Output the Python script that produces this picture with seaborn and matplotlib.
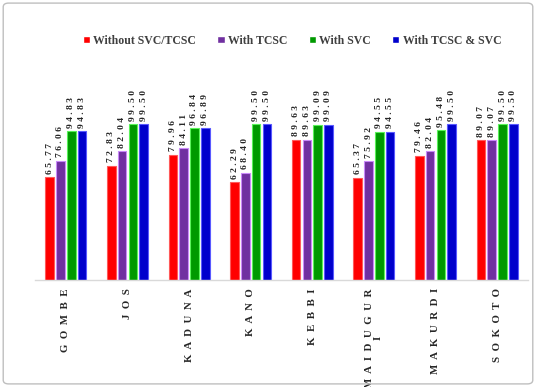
import matplotlib
matplotlib.use("Agg")
import matplotlib.pyplot as plt
import seaborn as sns
import pandas as pd
from matplotlib.patches import FancyBboxPatch
from matplotlib.colors import to_rgb

# Bus voltage profile (%) per location and compensation scheme
locations = ["GOMBE", "JOS", "KADUNA", "KANO", "KEBBI", "MAIDUGURI", "MAKURDI", "SOKOTO"]
tick_labels = ["GOMBE", "JOS", "KADUNA", "KANO", "KEBBI", "MAIDUGUR\nI", "MAKURDI", "SOKOTO"]
schemes = ["Without SVC/TCSC", "With TCSC", "With SVC", "With TCSC & SVC"]
legend_labels = ["Without SVC/TCSC", "With TCSC", "With SVC", "With TCSC & SVC"]

without_comp = [65.77, 72.83, 79.96, 62.29, 89.63, 65.37, 79.46, 89.07]
with_tcsc = [76.06, 82.04, 84.11, 68.40, 89.63, 75.92, 82.04, 89.07]
with_svc = [94.83, 99.50, 96.84, 99.50, 99.09, 94.55, 95.48, 99.50]
with_both = [94.83, 99.50, 96.89, 99.50, 99.09, 94.55, 99.50, 99.50]

colors = ["#ff0000", "#7030a0", "#009900", "#0000cc"]

df = pd.DataFrame({
    "location": locations * 4,
    "scheme": sum([[s] * len(locations) for s in schemes], []),
    "value": without_comp + with_tcsc + with_svc + with_both,
})

sns.set_theme(style="white")
plt.rcParams["font.family"] = ["Liberation Serif", "DejaVu Serif"]

fig = plt.figure(figsize=(5.36, 3.87), dpi=100)
ax = fig.add_axes([35 / 536, 107 / 387, 493 / 536, 188 / 387])

sns.barplot(data=df, x="location", y="value", hue="scheme", order=locations,
            hue_order=schemes, palette=colors, saturation=1, width=0.70,
            gap=0.2, ax=ax, legend=False)

ax.set_ylim(0, 120)
ax.set_xlim(-0.5, len(locations) - 0.5)
ax.set_xlabel("")
ax.set_ylabel("")
ax.set_yticks([])
for side in ["left", "right", "top"]:
    ax.spines[side].set_visible(False)
ax.spines["bottom"].set_color("#d9d9d9")
ax.spines["bottom"].set_linewidth(1.0)
ax.tick_params(axis="x", length=0, pad=6)

# spaced-out rotated category names
spaced = ["\n".join("  ".join(part) for part in lab.split("\n")) for lab in tick_labels]
ax.set_xticks(range(len(locations)))
ax.set_xticklabels(spaced, rotation=90, fontsize=7.8, fontweight="bold",
                   va="top", ha="center", color="#262626", linespacing=1.0)

# value labels above each bar
for container, col in zip(ax.containers, colors):
    light = tuple(min(1, c + 0.35) for c in to_rgb(col))
    for bar in container:
        bar.set_edgecolor(light)
        bar.set_linewidth(0.8)
        h = bar.get_height()
        txt = " ".join(f"{h:.2f}")
        ax.text(bar.get_x() + bar.get_width() / 2, h + 2.2, txt,
                rotation=90, ha="center", va="bottom", fontsize=6.8,
                fontweight="bold", color="#262626", clip_on=False)

# legend across the top
handles = [plt.Rectangle((0, 0), 1, 1, facecolor=c) for c in colors]
fig.legend(handles, legend_labels, loc="center", bbox_to_anchor=(0.545, 0.895),
           ncol=4, frameon=False,
           prop={"weight": "bold", "size": 8.5},
           handlelength=0.6, handleheight=0.6, handletextpad=0.3,
           columnspacing=1.8, labelcolor="#404040")

# outer chart border
fig.patches.append(FancyBboxPatch((0.006, 0.008), 0.988, 0.984,
                                  boxstyle="round,pad=0,rounding_size=0.01",
                                  transform=fig.transFigure, fill=False,
                                  edgecolor="#bfbfbf", linewidth=1.0))

fig.savefig("out.png", dpi=100)
